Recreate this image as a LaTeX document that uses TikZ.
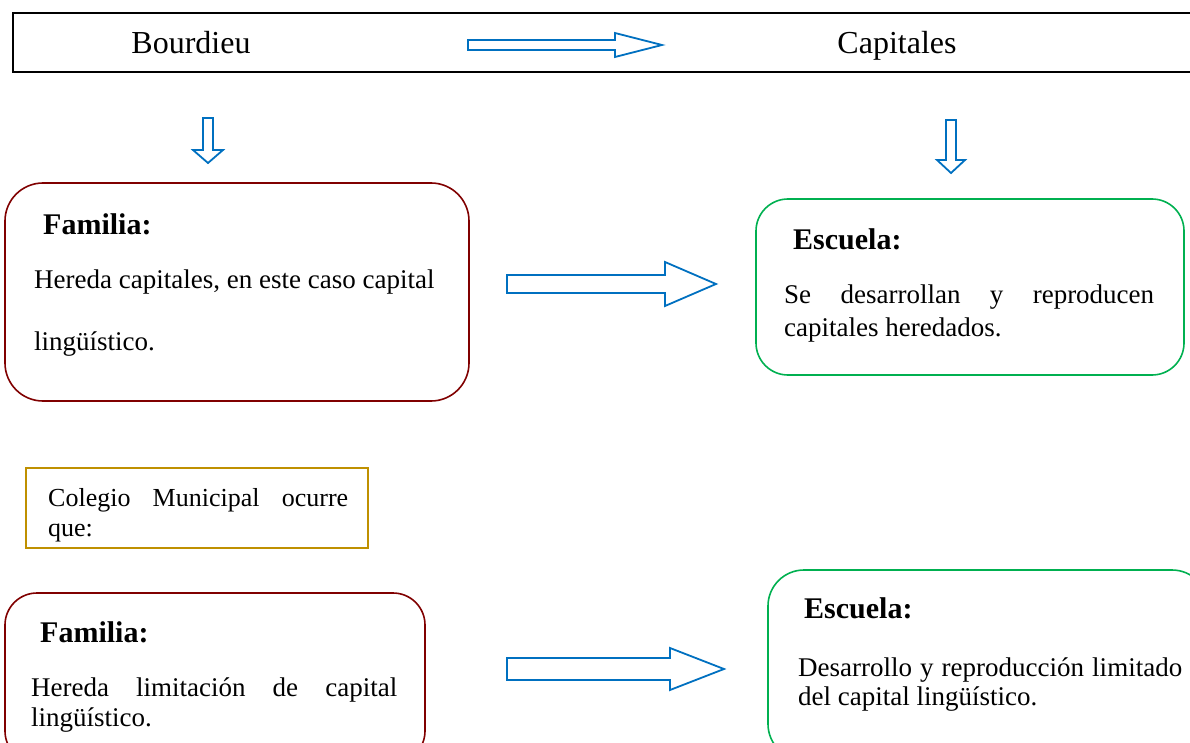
\documentclass[tikz,border=0pt]{standalone}
\usepackage{fontspec}
\setmainfont{Liberation Serif}
\usetikzlibrary{positioning}
\definecolor{famred}{RGB}{128,0,0}
\definecolor{escgreen}{RGB}{0,176,80}
\definecolor{colgold}{RGB}{191,144,0}
\definecolor{arrblue}{RGB}{0,112,192}
\newcommand{\blockarrow}[7]{%
  \draw[blockarr,shift={(#1,#2)},rotate=#7] (0,#4) -- (#3-#6,#4) -- (#3-#6,#5) -- (#3,0)
    -- (#3-#6,-#5) -- (#3-#6,-#4) -- (0,-#4) -- cycle;}
\begin{document}
\begin{tikzpicture}[x=1pt,y=-1pt,blockarr/.style={draw=arrblue,line width=1.8pt,line join=miter},
    txt/.style={anchor=base west,inner sep=0pt,font=\fontsize{27}{33}\selectfont},
    head/.style={anchor=base west,inner sep=0pt,font=\fontsize{30}{36}\selectfont\bfseries}]
    \tikzstyle{fambox}=[draw=famred,line width=1.6pt,rounded corners=38pt,inner sep=0pt]
    \tikzstyle{escbox}=[draw=escgreen,line width=1.6pt,rounded corners=32pt,inner sep=0pt]
    \useasboundingbox (0,0) rectangle (1190,743);
    \clip (0,0) rectangle (1190,743);

    \node[draw,line width=1.8pt,minimum width=1190,minimum height=59,inner sep=0pt] (top) at (608,42.5) {};
    \node[anchor=base,font=\fontsize{32}{38}\selectfont] (bour) at (191,54) {Bourdieu};
    \node[anchor=base,font=\fontsize{32}{38}\selectfont] (cap) at (897,54) {Capitales};

    \blockarrow{468}{45}{194}{5}{12}{47}{0}
    \blockarrow{208}{118}{45}{5}{15}{13}{-90}
    \blockarrow{951}{120}{53}{5}{14}{13}{-90}
    \blockarrow{507}{284}{209}{9}{22}{51}{0}
    \blockarrow{507}{669}{217}{11}{21}{54}{0}

    \node[fambox,minimum width=464,minimum height=218] (fam1) at (237,292) {};
    \node[head] (fam1h) at (43,235) {Familia:};
    \node[txt,align=left,font=\fontsize{27}{62}\selectfont] (fam1t) at (34,350)
      {Hereda capitales, en este caso capital\\lingüístico.};

    \node[escbox,minimum width=428,minimum height=176] (esc1) at (970,287) {};
    \node[head] (esc1h) at (793,250) {Escuela:};
    \node[txt,align=left] (esc1t) at (784,336)
      {\makebox[370pt][s]{Se desarrollan y reproducen}\\capitales heredados.};

    \node[draw=colgold,line width=1.6pt,minimum width=342,minimum height=80,inner sep=0pt] (col) at (197,508) {};
    \node[txt,align=left,font=\fontsize{26}{30}\selectfont] (colt) at (48,536)
      {\makebox[300pt][s]{Colegio Municipal ocurre}\\que:};

    \node[fambox,rounded corners=32pt,minimum width=420,minimum height=170] (fam2) at (215,678) {};
    \node[head] (fam2h) at (40,642) {Familia:};
    \node[txt,align=left,font=\fontsize{27}{30}\selectfont] (fam2t) at (31,726)
      {\makebox[366pt][s]{Hereda limitación de capital}\\lingüístico.};

    \node[escbox,rounded corners=36pt,minimum width=440,minimum height=190] (esc2) at (988,665) {};
    \node[head] (esc2h) at (804,618) {Escuela:};
    \node[txt,align=left,font=\fontsize{27}{29}\selectfont] (esc2t) at (798,705)
      {\makebox[384pt][s]{Desarrollo y reproducción limitado}\\del capital lingüístico.};

  \end{tikzpicture}
\end{document}
